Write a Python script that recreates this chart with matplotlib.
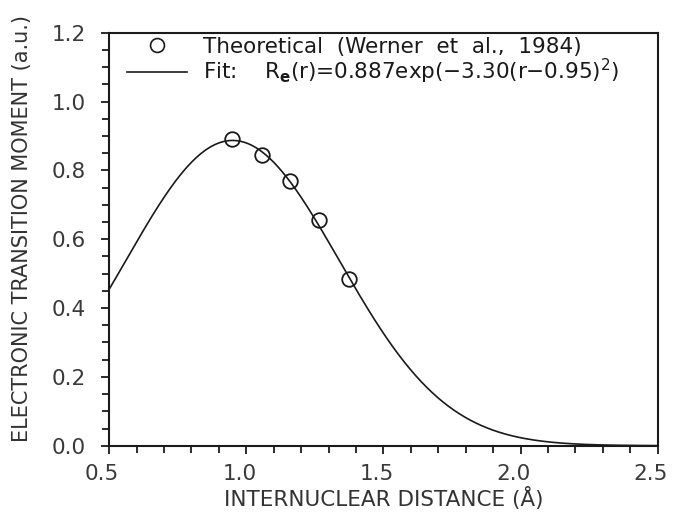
import numpy as np
import matplotlib
matplotlib.use("Agg")
import matplotlib.pyplot as plt
from matplotlib.ticker import MultipleLocator, FormatStrFormatter
from matplotlib.lines import Line2D
from matplotlib.transforms import ScaledTranslation

# theoretical points (Werner et al., 1984)
r_theo = [0.949, 1.056, 1.159, 1.265, 1.373]
m_theo = [0.890, 0.845, 0.769, 0.657, 0.483]

# fit parameters as printed in the legend
amp = 0.887
rate = 3.30
r0 = 0.95

r_fit = np.linspace(0.5, 2.5, 400)
m_fit = amp * np.exp(-rate * (r_fit - r0) ** 2)

fig = plt.figure(figsize=(6.74, 5.16), dpi=100)
ax = fig.add_axes([0.162, 0.1362, 0.8137, 0.8004])

ax.plot(r_fit, m_fit, c="#1a1a1a", lw=1.2)
ax.plot(r_theo, m_theo, ls="none", marker="o", ms=10.5, mfc="none",
        mec="#1a1a1a", mew=1.3)

ax.set_xlim(0.5, 2.5)
ax.set_ylim(0.0, 1.2)
ax.xaxis.set_major_locator(MultipleLocator(0.5))
ax.xaxis.set_minor_locator(MultipleLocator(0.1))
ax.yaxis.set_major_locator(MultipleLocator(0.2))
ax.yaxis.set_minor_locator(MultipleLocator(0.05))
ax.xaxis.set_major_formatter(FormatStrFormatter("%.1f"))
ax.yaxis.set_major_formatter(FormatStrFormatter("%.1f"))

ax.tick_params(which="both", direction="out", color="#1a1a1a", width=1.3,
               top=False, right=False)
ax.tick_params(which="major", length=6, labelsize=15.5, labelcolor="#3a3a3a")
ax.tick_params(which="minor", length=5)
ax.tick_params(axis="y", which="major", pad=11)
ax.tick_params(axis="x", which="major", pad=7)
for s in ax.spines.values():
    s.set_linewidth(1.5)
    s.set_color("#1a1a1a")

# x tick labels sit a little left of their ticks in the original
shift = ScaledTranslation(-7 / 100, 0, fig.dpi_scale_trans)
for lab in ax.xaxis.get_majorticklabels():
    lab.set_transform(lab.get_transform() + shift)

ax.set_xlabel("INTERNUCLEAR DISTANCE (Å)", fontsize=15.5,
              color="#333333", labelpad=2)
ax.set_ylabel("ELECTRONIC TRANSITION MOMENT (a.u.)",
              fontsize=15, color="#333333", labelpad=5)
ax.yaxis.set_label_coords(-0.14, 0.525)

handles = [
    Line2D([], [], ls="none", marker="o", ms=10, mfc="none", mec="#1a1a1a", mew=1.2),
    Line2D([], [], c="#1a1a1a", lw=1.2),
]
labels = [
    "Theoretical  (Werner  et  al.,  1984)",
    r"Fit:    R$_\mathbf{e}$(r)=0.887exp($-$3.30(r$-$0.95)$^2$)",
]
ax.legend(handles, labels, loc="upper left", bbox_to_anchor=(0.032, 0.99),
          frameon=False, borderpad=0, borderaxespad=0,
          handlelength=2.8, handletextpad=0.75, labelspacing=0.0,
          prop={"size": 15.5}, labelcolor="#1a1a1a")

fig.savefig("out.png", dpi=100)
